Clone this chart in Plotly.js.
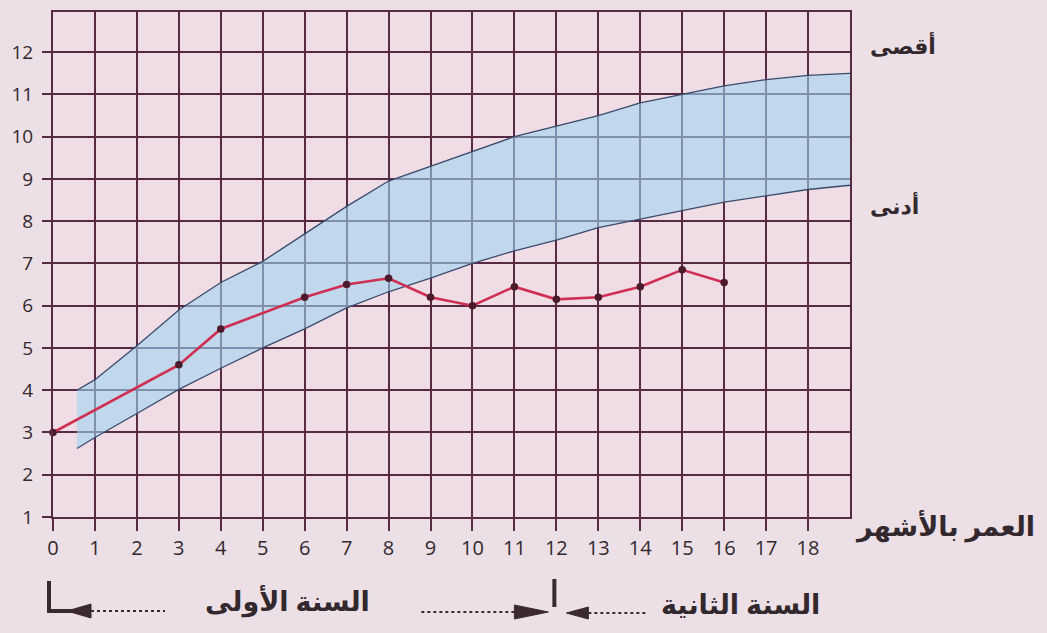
<!DOCTYPE html>
<html>
<head>
<meta charset="utf-8">
<script src="https://cdn.plot.ly/plotly-3.0.1.min.js"></script>
<style>
html,body{margin:0;padding:0;background:#ecdfe6;}
#chart{width:1047px;height:633px;}
</style>
</head>
<body>
<div id="chart"></div>
<script>
// Child weight record (kg) by age in months
const months  = [0, 3, 4, 6, 7, 8, 9, 10, 11, 12, 13, 14, 15, 16];
const weights = [3.0, 4.6, 5.45, 6.2, 6.5, 6.65, 6.2, 6.0, 6.45, 6.15, 6.2, 6.45, 6.85, 6.55];

// Normal range band (upper = أقصى, lower = أدنى)
const bandMonths = [0.57, 1, 2, 3, 4, 5, 6, 7, 8, 9, 10, 11, 12, 13, 14, 15, 16, 17, 18, 19];
const bandUpper  = [4.0, 4.25, 5.05, 5.9, 6.55, 7.05, 7.7, 8.35, 8.95, 9.3, 9.65, 10.0, 10.25, 10.5, 10.8, 11.0, 11.2, 11.35, 11.45, 11.5];
const bandLower  = [2.62, 2.88, 3.45, 4.02, 4.52, 5.0, 5.45, 5.95, 6.33, 6.65, 7.0, 7.3, 7.55, 7.85, 8.05, 8.25, 8.45, 8.6, 8.75, 8.85];

// Tick labels
const xTicks = [0,1,2,3,4,5,6,7,8,9,10,11,12,13,14,15,16,17,18];
const yTicks = [1,2,3,4,5,6,7,8,9,10,11,12];

// Text labels
const labelMax = 'أقصى';
const labelMin = 'أدنى';
const labelAge = 'العمر بالأشهر';
const labelYear1 = 'السنة الأولى';
const labelYear2 = 'السنة الثانية';
const yearStarts = [0, 12];

const X_MAX = 19, Y_MIN = 1, Y_MAX = 12.95;

const GRID = '#562a42';
const TEXT = '#33282d';
const FONT = 'Open Sans, Noto Sans, DejaVu Sans, sans-serif';

const traces = [
  {
    x: bandMonths.concat(bandMonths.slice().reverse()),
    y: bandUpper.concat(bandLower.slice().reverse()),
    type: 'scatter', mode: 'lines', fill: 'toself',
    fillcolor: 'rgba(160,212,242,0.6)',
    line: {width: 0}, hoverinfo: 'skip'
  },
  {
    x: bandMonths, y: bandUpper, type: 'scatter', mode: 'lines',
    line: {color: '#3b4a6b', width: 1.3}, hoverinfo: 'skip'
  },
  {
    x: bandMonths.slice(), y: bandLower, type: 'scatter', mode: 'lines',
    line: {color: '#3b4a6b', width: 1.3}, hoverinfo: 'skip'
  },
  {
    x: months, y: weights, type: 'scatter', mode: 'lines+markers',
    line: {color: '#cf2f52', width: 2.6},
    marker: {color: '#4d1a2c', size: 7.5},
    cliponaxis: false
  }
];

const p = m => m / X_MAX; // paper fraction of a month value

function seg(xa, x0, y0, x1, y1, w, dash) {
  return {type: 'line', xref: 'paper', yref: 'paper', xsizemode: 'pixel', ysizemode: 'pixel',
    xanchor: p(xa), yanchor: 0, x0: x0, y0: y0, x1: x1, y1: y1,
    line: {color: '#3a2a30', width: w, dash: dash || 'solid'}};
}
function tri(xa, path) {
  return {type: 'path', xref: 'paper', yref: 'paper', xsizemode: 'pixel', ysizemode: 'pixel',
    xanchor: p(xa), yanchor: 0, path: path, fillcolor: '#3a2a30', line: {color: '#3a2a30', width: 1}};
}

const shapes = [
  // first year marker
  seg(yearStarts[0], -4, -64, -4, -96, 4),
  seg(yearStarts[0], -6, -94, 22, -94, 4),
  tri(yearStarts[0], 'M 14 -94 L 38 -87 L 38 -101 Z'),
  seg(yearStarts[0], 38, -94, 112, -94, 2.2, 'dot'),
  // second year marker
  seg(yearStarts[1], -135, -95, -42, -95, 2.2, 'dot'),
  tri(yearStarts[1], 'M -8 -95 L -42 -88 L -42 -102 Z'),
  seg(yearStarts[1], -2, -62, -2, -90, 4),
  tri(yearStarts[1], 'M 10 -96 L 32 -90 L 32 -102 Z'),
  seg(yearStarts[1], 32, -96, 90, -96, 2.2, 'dot')
];

const arFont = {family: FONT, size: 27, color: TEXT, weight: 'bold'};
const annotations = [
  {text: labelMax, xref: 'paper', yref: 'paper', x: 1, y: 0.935, xanchor: 'left', yanchor: 'middle',
   xshift: 18, showarrow: false, font: {family: FONT, size: 22, color: TEXT, weight: 'bold'}},
  {text: labelMin, xref: 'paper', yref: 'paper', x: 1, y: 0.618, xanchor: 'left', yanchor: 'middle',
   xshift: 18, showarrow: false, font: {family: FONT, size: 22, color: TEXT, weight: 'bold'}},
  {text: labelAge, xref: 'paper', yref: 'paper', x: 1, y: 0, xanchor: 'left', yanchor: 'middle',
   xshift: 3, yshift: -8, showarrow: false, font: arFont},
  {text: labelYear1, xref: 'paper', yref: 'paper', x: p(yearStarts[0]), y: 0, xanchor: 'center', yanchor: 'middle',
   xshift: 234, yshift: -83, showarrow: false, font: arFont},
  {text: labelYear2, xref: 'paper', yref: 'paper', x: p(yearStarts[1]), y: 0, xanchor: 'center', yanchor: 'middle',
   xshift: 184, yshift: -86, showarrow: false, font: arFont}
];

const layout = {
  width: 1047, height: 633,
  paper_bgcolor: '#ecdfe6', plot_bgcolor: '#efdce4',
  margin: {l: 53, r: 197, t: 12, b: 116, pad: 0},
  showlegend: false,
  xaxis: {
    range: [0, X_MAX], tickvals: xTicks, ticktext: xTicks.map(String),
    showgrid: true, gridcolor: GRID, gridwidth: 2, zeroline: false,
    showline: true, mirror: true, linecolor: GRID, linewidth: 2,
    ticks: 'outside', ticklen: 12, tickwidth: 2, tickcolor: GRID,
    tickfont: {family: FONT, size: 20, color: TEXT}, fixedrange: true
  },
  yaxis: {
    range: [Y_MIN, Y_MAX], tickvals: yTicks, ticktext: yTicks.map(String),
    showgrid: true, gridcolor: GRID, gridwidth: 2, zeroline: false,
    showline: true, mirror: true, linecolor: GRID, linewidth: 2,
    ticks: 'outside', ticklen: 9, tickwidth: 2, tickcolor: GRID,
    ticklabelstandoff: 5,
    tickfont: {family: FONT, size: 19, color: TEXT}, fixedrange: true
  },
  shapes: shapes,
  annotations: annotations
};

Plotly.newPlot('chart', traces, layout, {displayModeBar: false, staticPlot: true});
</script>
</body>
</html>
